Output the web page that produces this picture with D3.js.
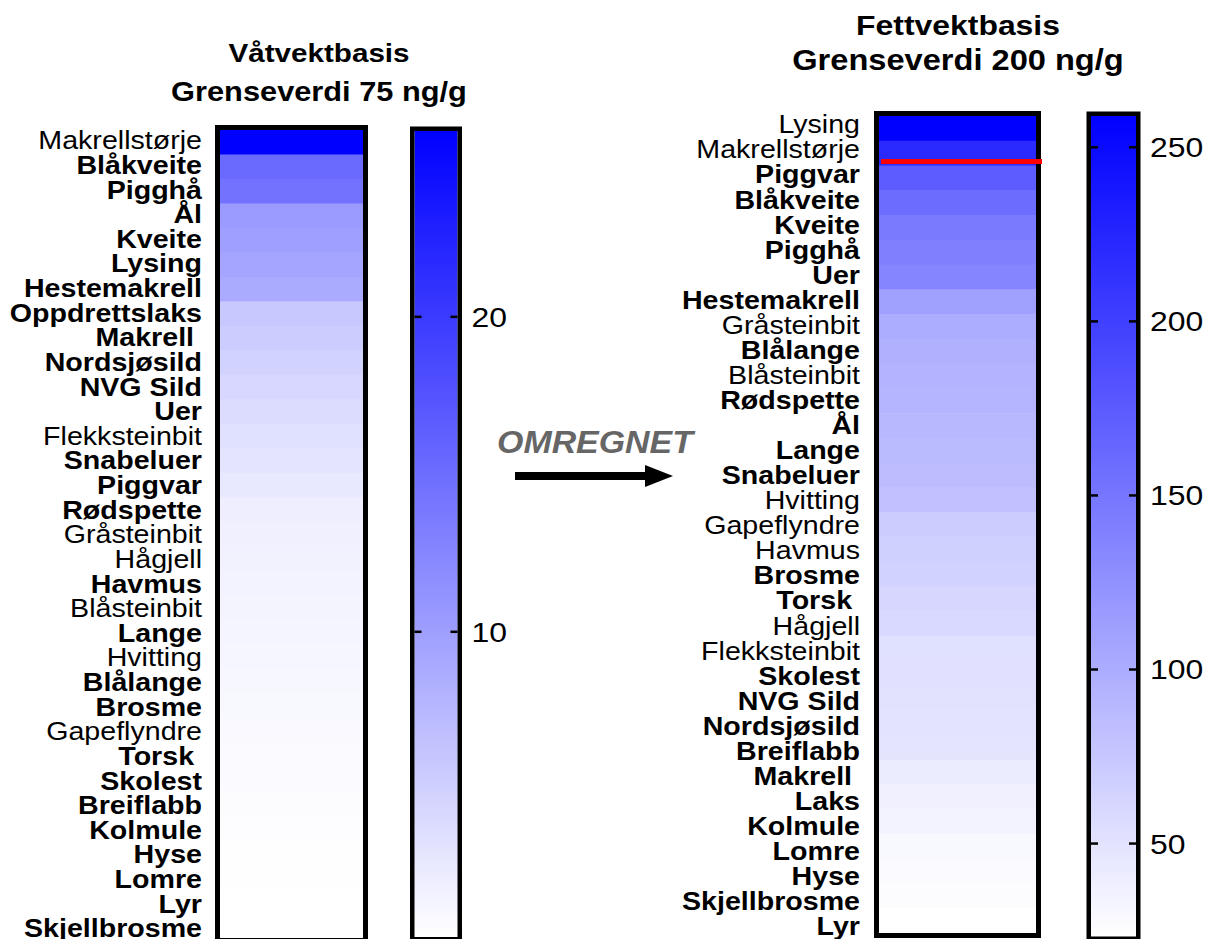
<!DOCTYPE html>
<html><head><meta charset="utf-8">
<script src="https://cdn.jsdelivr.net/npm/d3@7"></script>
<style>
html,body{margin:0;padding:0;background:#fff;}
svg{display:block;font-family:"Liberation Sans",Arial,Helvetica,sans-serif;}
</style></head>
<body><div id="chart"></div>
<script>
// ---------- DATA ----------
const leftCategories = ["Makrellstørje","Blåkveite","Pigghå","Ål","Kveite","Lysing","Hestemakrell","Oppdrettslaks","Makrell ","Nordsjøsild","NVG Sild","Uer","Flekksteinbit","Snabeluer","Piggvar","Rødspette","Gråsteinbit","Hågjell","Havmus","Blåsteinbit","Lange","Hvitting","Blålange","Brosme","Gapeflyndre","Torsk ","Skolest","Breiflabb","Kolmule","Hyse","Lomre","Lyr","Skjellbrosme"];
const leftValues = [25.9,15.3,14.5,10.4,9.9,9.3,8.8,5.8,5.4,4.8,4.3,3.8,3.4,3.0,2.6,2.0,1.8,1.65,1.5,1.4,1.3,1.2,1.1,1.0,0.9,0.8,0.72,0.6,0.52,0.45,0.4,0.35,0.31];
const leftRegular = ["Makrellstørje","Flekksteinbit","Gråsteinbit","Hågjell","Blåsteinbit","Hvitting","Gapeflyndre"];
const leftTicks = [10, 20];
const leftTitle = ["Våtvektbasis", "Grenseverdi 75 ng/g"];

const rightCategories = ["Lysing","Makrellstørje","Piggvar","Blåkveite","Kveite","Pigghå","Uer","Hestemakrell","Gråsteinbit","Blålange","Blåsteinbit","Rødspette","Ål","Lange","Snabeluer","Hvitting","Gapeflyndre","Havmus","Brosme","Torsk ","Hågjell","Flekksteinbit","Skolest","NVG Sild","Nordsjøsild","Breiflabb","Makrell ","Laks","Kolmule","Lomre","Hyse","Skjellbrosme","Lyr"];
const rightValues = [259,220,174,159,146,141,136,111,99,96,94,92,89,87,85,81,70,67,65,61,58.5,52,51,50,49,48.5,41,37,34,30,28,26,23.3];
const rightRegular = ["Lysing","Makrellstørje","Gråsteinbit","Blåsteinbit","Hvitting","Gapeflyndre","Havmus","Hågjell","Flekksteinbit"];
const rightTicks = [50, 100, 150, 200, 250];
const rightTitle = ["Fettvektbasis", "Grenseverdi 200 ng/g"];
const rightLimitMarker = {category: "Makrellstørje", fraction: 0.84};

const arrowLabel = "OMREGNET";

// ---------- DRAW ----------
const W = 1217, H = 939, SX = 1.14, LSX = 1.1;
const svg = d3.select("#chart").append("svg").attr("width", W).attr("height", H);
const defs = svg.append("defs");

function panel(cfg) {
  const g = svg.append("g");
  const y = d3.scaleBand().domain(cfg.categories).range([cfg.top, cfg.bottom]).padding(0);
  const yl = d3.scaleBand().domain(cfg.categories).range(cfg.labelRange).padding(0);
  const ext = d3.extent(cfg.values);
  const color = d3.scaleLinear().domain(ext).range(["#ffffff", "#0000ff"]);
  const rows = cfg.categories.map((c, i) => ({c, v: cfg.values[i]}));

  g.selectAll("rect.cell").data(rows).join("rect").attr("class", "cell")
    .attr("x", cfg.x0).attr("width", cfg.x1 - cfg.x0)
    .attr("y", d => y(d.c)).attr("height", y.bandwidth() + 0.6)
    .attr("fill", d => color(d.v));

  const sw = 5;
  g.append("rect")
    .attr("x", cfg.x0 - sw / 2).attr("y", cfg.top - sw / 2)
    .attr("width", cfg.x1 - cfg.x0 + sw).attr("height", cfg.bottom - cfg.top + sw)
    .attr("fill", "none").attr("stroke", "#000").attr("stroke-width", sw);

  g.selectAll("text.lab").data(cfg.categories).join("text").attr("class", "lab")
    .attr("transform", d => `translate(${cfg.labelX},${yl(d) + yl.bandwidth() / 2 + 9.3}) scale(${LSX},1)`)
    .attr("text-anchor", "end")
    .attr("xml:space", "preserve").style("white-space", "pre")
    .attr("font-size", 26)
    .attr("font-weight", d => cfg.regular.includes(d.trim()) ? "normal" : "bold")
    .attr("fill", "#000")
    .text(d => d);

  // colour bar
  const cy = d3.scaleLinear().domain(ext).range([cfg.cbBottom, cfg.cbTop]);
  const gid = "grad" + cfg.id;
  const grad = defs.append("linearGradient").attr("id", gid)
    .attr("gradientUnits", "userSpaceOnUse")
    .attr("x1", 0).attr("x2", 0).attr("y1", cy(ext[0])).attr("y2", cy(ext[1]));
  d3.range(0, 1.0001, 0.1).forEach(t => {
    const v = ext[0] + t * (ext[1] - ext[0]);
    grad.append("stop").attr("offset", t).attr("stop-color", color(v));
  });
  g.append("rect").attr("x", cfg.cbX0).attr("width", cfg.cbX1 - cfg.cbX0)
    .attr("y", cy(ext[1])).attr("height", cy(ext[0]) - cy(ext[1]))
    .attr("fill", `url(#${gid})`);
  const cbs = 4.5;
  g.append("rect").attr("x", cfg.cbX0 - cbs / 2).attr("width", cfg.cbX1 - cfg.cbX0 + cbs)
    .attr("y", cy(ext[1]) - cbs / 2).attr("height", cy(ext[0]) - cy(ext[1]) + cbs)
    .attr("fill", "none").attr("stroke", "#000").attr("stroke-width", cbs);
  const tk = g.selectAll("g.tick").data(cfg.ticks).join("g").attr("class", "tick");
  tk.append("line").attr("x1", cfg.cbX0).attr("x2", cfg.cbX0 + 7)
    .attr("y1", d => cy(d)).attr("y2", d => cy(d)).attr("stroke", "#000").attr("stroke-width", 2.5);
  tk.append("line").attr("x1", cfg.cbX1 - 7).attr("x2", cfg.cbX1)
    .attr("y1", d => cy(d)).attr("y2", d => cy(d)).attr("stroke", "#000").attr("stroke-width", 2.5);
  tk.append("text")
    .attr("transform", d => `translate(${cfg.cbX1 + 14},${cy(d) + 10}) scale(${SX},1)`)
    .attr("font-size", 28).attr("fill", "#000").text(d => d);

  // titles
  cfg.title.forEach((t, i) => {
    g.append("text")
      .attr("transform", `translate(${cfg.titleX},${cfg.titleY[i]}) scale(${SX},1)`)
      .attr("text-anchor", "middle").attr("font-weight", "bold")
      .attr("font-size", cfg.titleSize[i]).attr("fill", "#000").text(t);
  });
  return {y};
}

panel({
  id: "L", categories: leftCategories, values: leftValues, regular: leftRegular, ticks: leftTicks,
  x0: 220, x1: 363, top: 130, bottom: 938, labelX: 202, labelRange: [127.7, 940.3],
  cbX0: 414.5, cbX1: 457.5, cbTop: 131, cbBottom: 937,
  title: leftTitle, titleX: 319, titleY: [62, 101], titleSize: [26, 27]
});

const R = panel({
  id: "R", categories: rightCategories, values: rightValues, regular: rightRegular, ticks: rightTicks,
  x0: 879, x1: 1036, top: 116, bottom: 933, labelX: 860, labelRange: [111.5, 938.5],
  cbX0: 1091, cbX1: 1136, cbTop: 116, cbBottom: 936.5,
  title: rightTitle, titleX: 958, titleY: [35, 70], titleSize: [28, 28.6]
});

// limit marker
const ly = R.y(rightLimitMarker.category) + R.y.bandwidth() * rightLimitMarker.fraction;
svg.append("line").attr("x1", 881).attr("x2", 1042).attr("y1", ly).attr("y2", ly)
  .attr("stroke", "#ff0000").attr("stroke-width", 5);

// arrow + label
svg.append("text").attr("transform", `translate(497,453) scale(1.06,1)`)
  .attr("font-size", 32).attr("font-weight", "bold").attr("font-style", "italic")
  .attr("fill", "#666666").text(arrowLabel);
svg.append("line").attr("x1", 515).attr("x2", 648).attr("y1", 476).attr("y2", 476)
  .attr("stroke", "#000").attr("stroke-width", 8);
svg.append("path").attr("d", d3.line()([[645, 465], [673, 476], [645, 487]]) + "Z").attr("fill", "#000");
</script>
</body></html>
